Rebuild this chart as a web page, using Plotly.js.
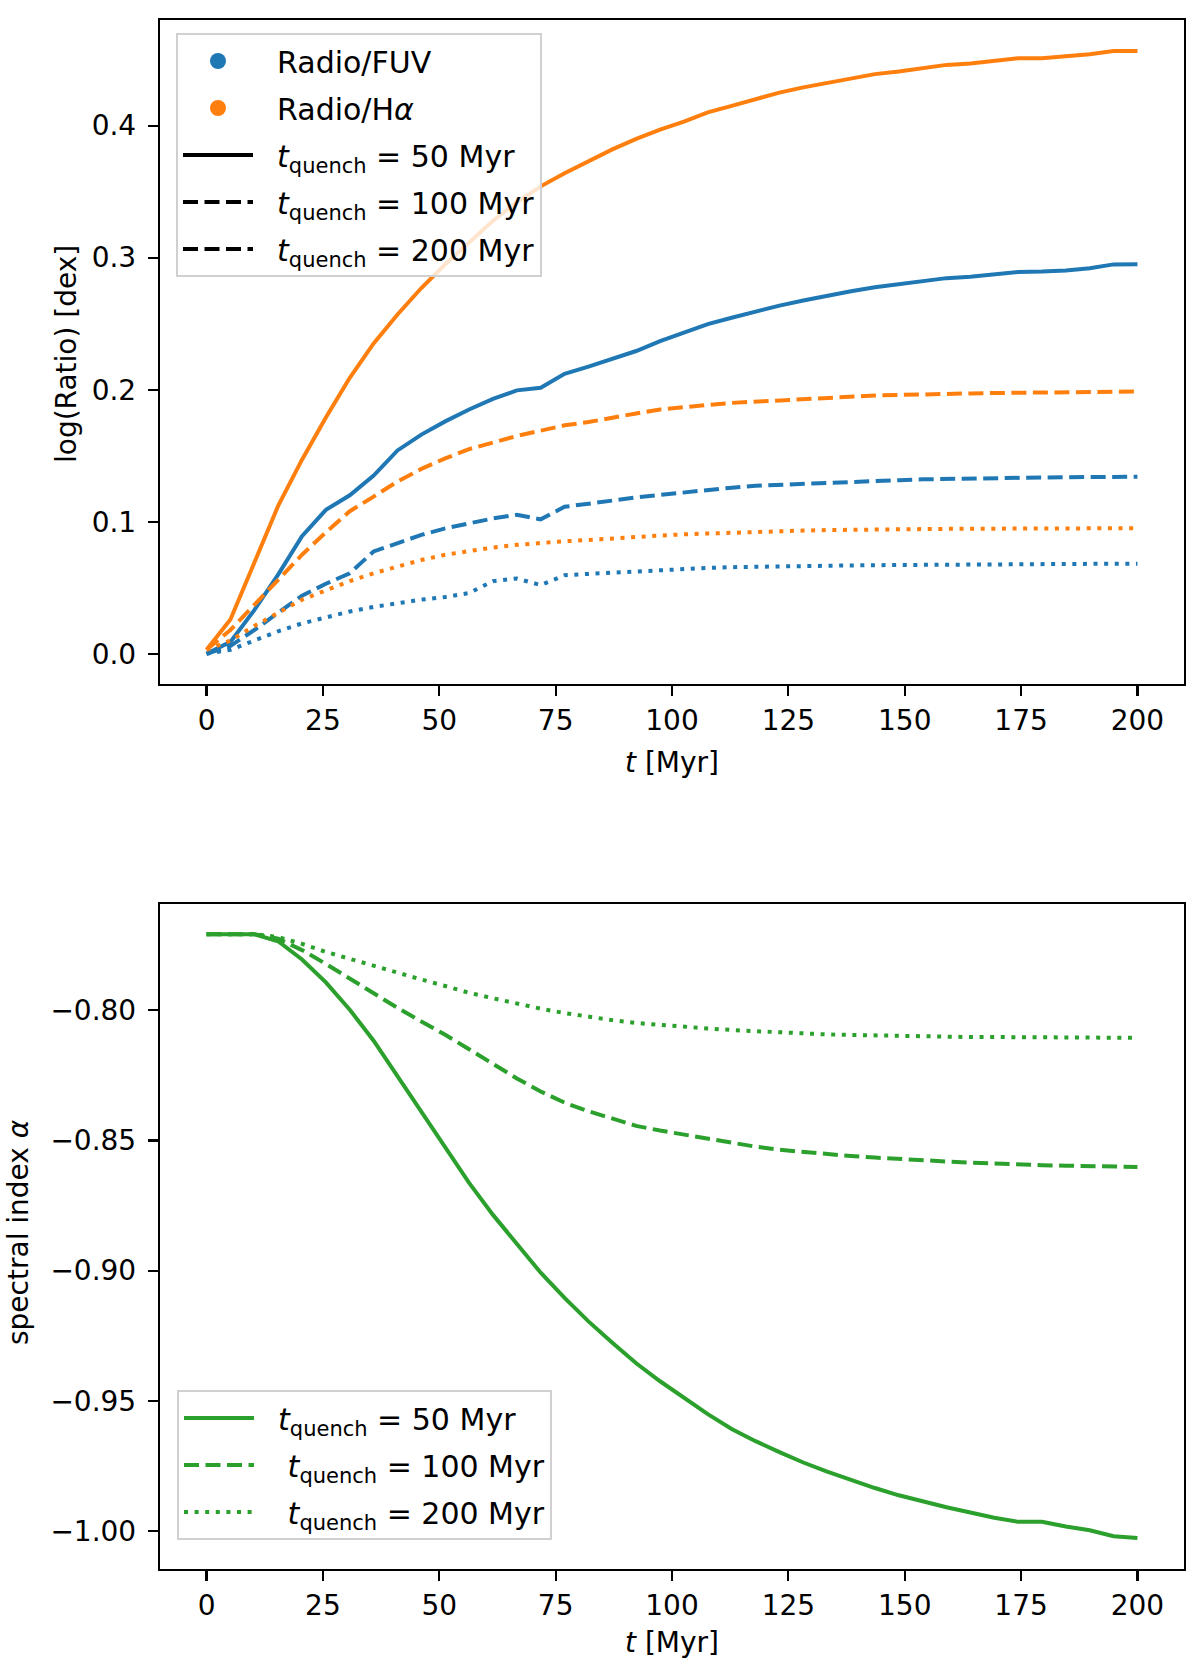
<!DOCTYPE html>
<html>
<head>
<meta charset="utf-8">
<script src="https://cdn.plot.ly/plotly-3.0.1.min.js"></script>
<style>
  html, body { margin: 0; padding: 0; background: #fff; }
  #chart { width: 1200px; height: 1662px; }
</style>
</head>
<body>
<div id="chart"></div>
<script>
// time grid [Myr]
const tMyr = [0, 5.13, 10.26, 15.38, 20.51, 25.64, 30.77, 35.9, 41.03, 46.15, 51.28, 56.41, 61.54, 66.67, 71.79, 76.92, 82.05, 87.18, 92.31, 97.44,
  102.56, 107.69, 112.82, 117.95, 123.08, 128.21, 133.33, 138.46, 143.59, 148.72, 153.85, 158.97, 164.1, 169.23, 174.36, 179.49, 184.62, 189.74, 194.87, 200];

// log(Radio/FUV) [dex]
const fuv50 = [0.000, 0.009, 0.033, 0.060, 0.089, 0.109, 0.120, 0.135, 0.154, 0.166, 0.176, 0.185, 0.193, 0.1995, 0.2015, 0.212, 0.2175, 0.2236, 0.2293, 0.2368,
  0.2435, 0.2497, 0.2545, 0.2592, 0.2637, 0.2675, 0.2713, 0.2745, 0.2776, 0.2797, 0.2820, 0.2845, 0.2856, 0.2875, 0.2892, 0.2895, 0.2903, 0.2920, 0.2949, 0.2950];
const fuv100 = [0.000, 0.006, 0.018, 0.031, 0.044, 0.053, 0.061, 0.0775, 0.084, 0.090, 0.095, 0.099, 0.1025, 0.1052, 0.1018, 0.1113, 0.1133, 0.116, 0.1185, 0.1205,
  0.1225, 0.124, 0.1258, 0.1272, 0.128, 0.129, 0.1298, 0.1305, 0.131, 0.1315, 0.1321, 0.1325, 0.1327, 0.133, 0.1333, 0.1335, 0.1337, 0.1338, 0.134, 0.1341];
const fuv200 = [0.000, 0.003, 0.010, 0.017, 0.023, 0.0275, 0.032, 0.0355, 0.0385, 0.041, 0.043, 0.046, 0.055, 0.057, 0.052, 0.0595, 0.0605, 0.0615, 0.062, 0.063,
  0.0642, 0.065, 0.0656, 0.066, 0.0663, 0.0665, 0.0667, 0.0669, 0.0671, 0.0673, 0.0675, 0.0676, 0.0677, 0.0678, 0.0679, 0.068, 0.068, 0.0681, 0.0682, 0.0682];

// log(Radio/Halpha) [dex]
const ha50 = [0.003, 0.026, 0.069, 0.112, 0.147, 0.179, 0.209, 0.235, 0.257, 0.277, 0.295, 0.312, 0.328, 0.342, 0.354, 0.364, 0.373, 0.382, 0.390, 0.397,
  0.403, 0.410, 0.415, 0.420, 0.425, 0.429, 0.4325, 0.436, 0.439, 0.441, 0.4435, 0.446, 0.447, 0.449, 0.451, 0.451, 0.4523, 0.454, 0.4566, 0.4566];
const ha100 = [0.003, 0.018, 0.037, 0.056, 0.075, 0.092, 0.108, 0.119, 0.1305, 0.140, 0.148, 0.155, 0.160, 0.165, 0.169, 0.173, 0.1755, 0.179, 0.182, 0.185,
  0.187, 0.1885, 0.190, 0.191, 0.192, 0.1932, 0.1943, 0.195, 0.1956, 0.196, 0.1966, 0.197, 0.1972, 0.1975, 0.1977, 0.198, 0.1982, 0.1984, 0.1985, 0.1986];
const ha200 = [0.003, 0.010, 0.021, 0.031, 0.041, 0.048, 0.055, 0.061, 0.066, 0.071, 0.075, 0.078, 0.0805, 0.0825, 0.084, 0.0852, 0.0862, 0.0875, 0.0885, 0.0895,
  0.0905, 0.0912, 0.0918, 0.0923, 0.0928, 0.0933, 0.0937, 0.094, 0.0942, 0.0944, 0.0945, 0.0946, 0.0947, 0.0948, 0.0948, 0.0949, 0.095, 0.095, 0.0951, 0.0951];

// spectral index alpha
const alpha50 = [-0.7708, -0.7708, -0.7708, -0.7735, -0.7805, -0.7893, -0.7998, -0.8117, -0.8253, -0.8390, -0.8523, -0.8663, -0.8786, -0.8900, -0.9008, -0.9105, -0.9195, -0.9277, -0.9356, -0.9425,
  -0.9490, -0.9551, -0.9608, -0.9655, -0.9697, -0.9737, -0.9772, -0.9805, -0.9835, -0.9863, -0.9888, -0.9909, -0.9929, -0.9949, -0.9965, -0.9965, -0.9983, -0.9997, -1.0020, -1.0027];
const alpha100 = [-0.7708, -0.7708, -0.7708, -0.7725, -0.7769, -0.7822, -0.7879, -0.7935, -0.7991, -0.8043, -0.8094, -0.8150, -0.8208, -0.8262, -0.8312, -0.8355, -0.8388, -0.8418, -0.8444, -0.8462,
  -0.8478, -0.8494, -0.8509, -0.8524, -0.8536, -0.8545, -0.8553, -0.8560, -0.8566, -0.8572, -0.8577, -0.8581, -0.8585, -0.8589, -0.8592, -0.8595, -0.8597, -0.8599, -0.8601, -0.8602];
const alpha200 = [-0.7708, -0.7708, -0.7708, -0.7719, -0.7745, -0.7776, -0.7803, -0.7831, -0.7858, -0.7882, -0.7907, -0.7933, -0.7954, -0.7975, -0.7994, -0.8011, -0.8026, -0.8038, -0.8049, -0.8057,
  -0.8064, -0.8070, -0.8076, -0.8081, -0.8086, -0.8090, -0.8093, -0.8095, -0.8097, -0.8099, -0.8100, -0.8102, -0.8103, -0.8103, -0.8104, -0.8104, -0.8105, -0.8105, -0.8106, -0.8106];

const SP = '\u00a0\u00a0';
const quenchLabels = ['<i>t</i><sub>quench</sub> = 50 Myr', '<i>t</i><sub>quench</sub> = 100 Myr', '<i>t</i><sub>quench</sub> = 200 Myr'];

const BLUE = '#1f77b4', ORANGE = '#ff7f0e', GREEN = '#2ca02c';
const LW = 4;
const DASH = { solid: 'solid', dashed: '15px,6.5px', dotted: '4px,6.6px' };

function line(x, y, color, dash, xa, ya) {
  return { type: 'scatter', mode: 'lines', x: x, y: y, xaxis: xa, yaxis: ya, showlegend: false, hoverinfo: 'skip',
    line: { color: color, width: LW, dash: dash } };
}
function legendLine(name, color, dash, leg, grp) {
  return { type: 'scatter', mode: 'lines', x: [null], y: [null], xaxis: leg === 'legend' ? 'x' : 'x2', yaxis: leg === 'legend' ? 'y' : 'y2',
    name: name, legend: leg, legendgroup: grp, line: { color: color, width: LW, dash: dash } };
}
function legendDot(name, color, grp) {
  return { type: 'scatter', mode: 'markers', x: [null], y: [null], xaxis: 'x', yaxis: 'y', name: name, legend: 'legend', legendgroup: grp,
    marker: { color: color, size: 17, symbol: 'circle' } };
}

const traces = [
  line(tMyr, fuv50, BLUE, DASH.solid, 'x', 'y'),
  line(tMyr, ha50, ORANGE, DASH.solid, 'x', 'y'),
  line(tMyr, fuv100, BLUE, DASH.dashed, 'x', 'y'),
  line(tMyr, ha100, ORANGE, DASH.dashed, 'x', 'y'),
  line(tMyr, fuv200, BLUE, DASH.dotted, 'x', 'y'),
  line(tMyr, ha200, ORANGE, DASH.dotted, 'x', 'y'),
  line(tMyr, alpha50, GREEN, DASH.solid, 'x2', 'y2'),
  line(tMyr, alpha100, GREEN, DASH.dashed, 'x2', 'y2'),
  line(tMyr, alpha200, GREEN, DASH.dotted, 'x2', 'y2'),
  // top legend
  legendDot(SP + 'Radio/FUV', BLUE, 'a1'),
  legendDot(SP + 'Radio/H<i>α</i>', ORANGE, 'a2'),
  legendLine(SP + quenchLabels[0], '#000', DASH.solid, 'legend', 'a3'),
  legendLine(SP + quenchLabels[1], '#000', DASH.dashed, 'legend', 'a4'),
  legendLine(SP + quenchLabels[2], '#000', DASH.dashed, 'legend', 'a5'),
  // bottom legend
  legendLine(SP + quenchLabels[0], GREEN, DASH.solid, 'legend2', 'b1'),
  legendLine(SP + '\u00a0' + quenchLabels[1], GREEN, DASH.dashed, 'legend2', 'b2'),
  legendLine(SP + '\u00a0' + quenchLabels[2], GREEN, DASH.dotted, 'legend2', 'b3')
];

const W = 1200, H = 1662;
const xDom = [160 / W, 1184 / W];
const axBase = {
  showline: true, mirror: true, linecolor: '#000', linewidth: 2.2,
  ticks: 'outside', ticklen: 10, tickwidth: 2.2, tickcolor: '#000',
  showgrid: false, zeroline: false, tickfont: { size: 28, color: '#000' }, fixedrange: true
};
const legBase = {
  bgcolor: 'rgba(255,255,255,0.8)', bordercolor: '#d0d0d0', borderwidth: 2,
  font: { size: 30, color: '#000' }, xanchor: 'left', yanchor: 'top',
  itemwidth: 70, traceorder: 'grouped', tracegroupgap: 5, itemclick: false
};

const layout = {
  width: W, height: H,
  margin: { l: 0, r: 0, t: 0, b: 0 },
  paper_bgcolor: '#fff', plot_bgcolor: '#fff',
  font: { family: 'DejaVu Sans', size: 28, color: '#000' },
  xaxis: { ...axBase, anchor: 'y', domain: xDom, range: [-10, 210], tick0: 0, dtick: 25 },
  yaxis: { ...axBase, anchor: 'x', domain: [1 - 684 / H, 1 - 20 / H], range: [-0.0229, 0.480], tick0: 0, dtick: 0.1, tickformat: '.1f', ticklabelstandoff: 6 },
  xaxis2: { ...axBase, anchor: 'y2', domain: xDom, range: [-10, 210], tick0: 0, dtick: 25 },
  yaxis2: { ...axBase, anchor: 'x2', domain: [1 - 1569 / H, 1 - 904 / H], range: [-1.0146, -0.7592], tick0: -1, dtick: 0.05, tickformat: '.2f', ticklabelstandoff: 6 },
  showlegend: true,
  legend: { ...legBase, x: 176 / W, y: 1 - 33 / H },
  legend2: { ...legBase, x: 177 / W, y: 1 - 1390 / H },
  annotations: [
    { xref: 'paper', yref: 'paper', x: 672 / W, y: 1 - 762 / H, text: '<i>t</i> [Myr]', showarrow: false, xanchor: 'center', yanchor: 'middle', font: { size: 28 } },
    { xref: 'paper', yref: 'paper', x: 66 / W, y: 1 - 354 / H, text: 'log(Ratio) [dex]', textangle: -90, showarrow: false, xanchor: 'center', yanchor: 'middle', font: { size: 28 } },
    { xref: 'paper', yref: 'paper', x: 672 / W, y: 1 - 1642 / H, text: '<i>t</i> [Myr]', showarrow: false, xanchor: 'center', yanchor: 'middle', font: { size: 28 } },
    { xref: 'paper', yref: 'paper', x: 18 / W, y: 1 - 1232 / H, text: 'spectral index <i>α</i>', textangle: -90, showarrow: false, xanchor: 'center', yanchor: 'middle', font: { size: 28 } }
  ]
};

Plotly.newPlot('chart', traces, layout, { displayModeBar: false, staticPlot: true });
</script>
</body>
</html>
